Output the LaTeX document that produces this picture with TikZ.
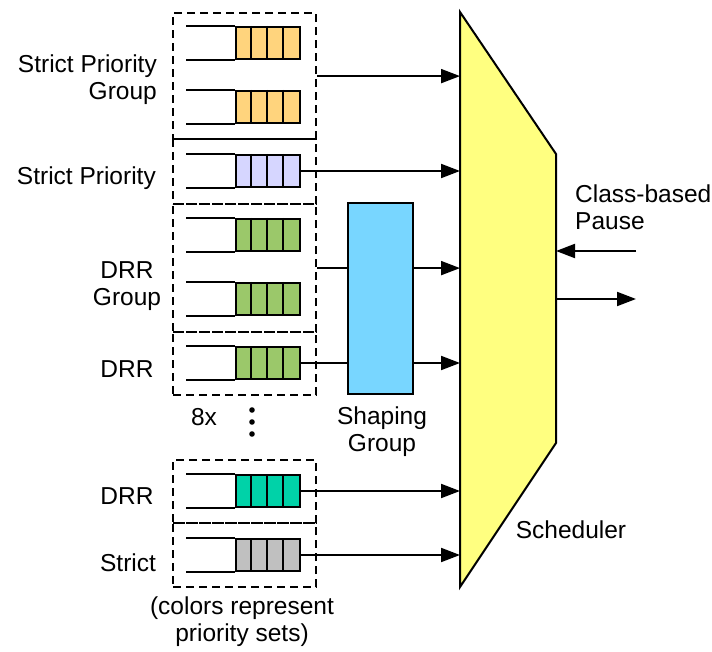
\documentclass[tikz,border=0pt]{standalone}
\usepackage{fontspec}
\setmainfont{Liberation Sans}
\usetikzlibrary{arrows.meta}

\definecolor{qorange}{RGB}{255,212,125}
\definecolor{qpurple}{RGB}{214,214,255}
\definecolor{qgreen}{RGB}{155,200,106}
\definecolor{qteal}{RGB}{0,210,168}
\definecolor{qgray}{RGB}{192,192,192}
\definecolor{shapeblue}{RGB}{120,214,255}
\definecolor{schedyellow}{RGB}{255,255,128}

\tikzset{
  solidln/.style={line width=2pt},
  grpbox/.style={draw, line width=2.2pt, dash pattern=on 8pt off 5pt,
              minimum width=143pt, anchor=north west, inner sep=0pt},
  cellbox/.style={draw, line width=2pt, minimum width=64pt,
                minimum height=32pt, inner sep=0pt},
  arr/.style={line width=2pt, -{Triangle[length=19pt,width=14pt]}},
  lbl/.style={font=\fontsize{24.5}{27}\selectfont, inner sep=0pt},
}

% queue: name, vertical centre, cell colour
\newcommand\queuebox[3]{%
  \node[cellbox, fill=#3] (#1) at (268,#2) {};
  \foreach \k in {1,2,3}
    \draw[solidln] ([xshift=\k*16pt]#1.north west) -- ([xshift=\k*16pt]#1.south west);
  \draw[solidln] (#1.north west) -- ++(-49,0);
  \draw[solidln] (#1.south west) -- ++(-49,0);
}

\begin{document}
\begin{tikzpicture}[x=1pt,y=-1pt]
\useasboundingbox (0,0) rectangle (712,652);

% scheduler
\draw[solidln, fill=schedyellow] (460,12) -- (556,154) -- (556,443) -- (460,587) -- cycle;
\coordinate (schL) at (460,0);
\coordinate (schR) at (556,0);

% queues
\queuebox{q1}{43}{qorange}
\queuebox{q2}{107}{qorange}
\queuebox{q3}{171}{qpurple}
\queuebox{q4}{235}{qgreen}
\queuebox{q5}{299}{qgreen}
\queuebox{q6}{363}{qgreen}
\queuebox{q7}{491}{qteal}
\queuebox{q8}{555}{qgray}

% dashed groups
\node[grpbox, minimum height=126pt] (g1) at (172,12) {};
\node[grpbox, minimum height=65pt]  (g2) at (172,138) {};
\node[grpbox, minimum height=128pt] (g3) at (172,203) {};
\node[grpbox, minimum height=63pt]  (g4) at (172,331) {};
\node[grpbox, minimum height=63pt]  (g5) at (172,459) {};
\node[grpbox, minimum height=64pt]  (g6) at (172,522) {};

% shaping group
\node[draw, line width=2pt, fill=shapeblue, minimum width=65pt,
      minimum height=191pt, inner sep=0pt] (shp) at (380.5,298.5) {};

% connectors
\draw[arr] (g1.east) -- (g1.east -| schL);
\draw[arr] (q3.east) -- (q3.east -| schL);
\draw[solidln] (g3.east) -- (g3.east -| shp.west);
\draw[solidln] (q6.east) -- (q6.east -| shp.west);
\draw[arr] (g3.east -| shp.east) -- (g3.east -| schL);
\draw[arr] (q6.east -| shp.east) -- (q6.east -| schL);
\draw[arr] (q7.east) -- (q7.east -| schL);
\draw[arr] (q8.east) -- (q8.east -| schL);

\coordinate (pin) at (636,251);
\coordinate (pout) at (636,299);
\draw[arr] (pin) -- (pin -| schR);
\draw[arr] (pout -| schR) -- (pout);

% more queues marker
\foreach \yy in {410,422,434}
  \fill (252,\yy) circle (2.8pt);

% labels
\node[lbl, anchor=east, align=right] (tspg) at (157,80) {Strict Priority\\Group};
\node[lbl, anchor=east] (tsp) at (156,178) {Strict Priority};
\node[lbl, align=center] (tdrrg) at (127,286) {DRR\\Group};
\node[lbl] (tdrr1) at (127,369) {DRR};
\node[lbl] (t8x) at (204,417) {8x};
\node[lbl, align=center] (tshp) at (382,432) {Shaping\\Group};
\node[lbl] (tdrr2) at (127,496) {DRR};
\node[lbl] (tstr) at (128,563) {Strict};
\node[lbl, align=center] (tcol) at (242,622) {(colors represent\\priority sets)};
\node[lbl] (tsch) at (571,530) {Scheduler};
\node[lbl, anchor=west, align=left] (tpause) at (575,207) {Class-based\\Pause};
\end{tikzpicture}
\end{document}
